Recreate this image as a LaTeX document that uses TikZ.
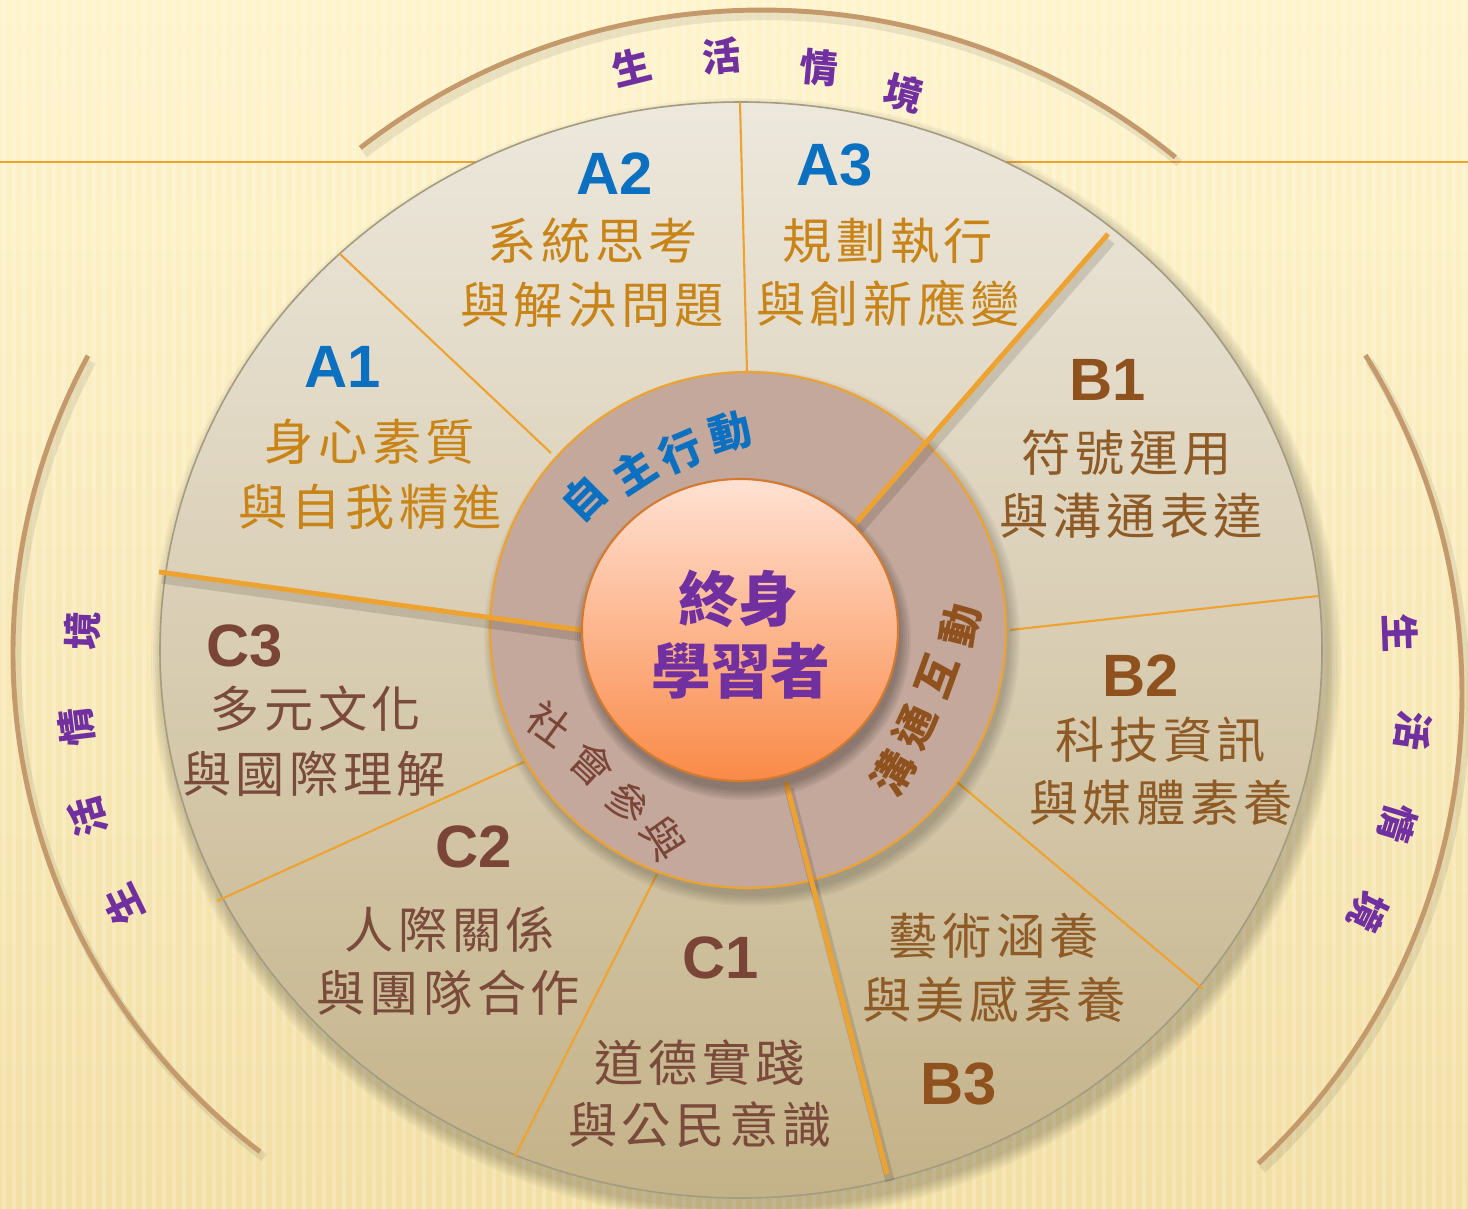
\documentclass[tikz,border=0pt]{standalone}
\usepackage{fontspec}
\newfontfamily\cjk[LetterSpace=9]{Noto Sans CJK TC}
\newfontfamily\cjkc{Noto Sans CJK TC}
\newfontfamily\codefont{Liberation Sans}
\definecolor{bgtop}{HTML}{FEF4CC}
\definecolor{bgbot}{HTML}{F2DFA4}
\definecolor{disctop}{HTML}{EDE8DD}
\definecolor{discbot}{HTML}{C4B288}
\definecolor{discedge}{HTML}{A39B82}
\definecolor{ringfill}{HTML}{C3A89B}
\definecolor{lineor}{HTML}{EEA22F}
\definecolor{inntop}{HTML}{FFE1D3}
\definecolor{innbot}{HTML}{FA8A48}
\definecolor{innedge}{HTML}{D47A2E}
\definecolor{arcbrown}{HTML}{C49A6C}
\definecolor{lifepurple}{HTML}{7030A0}
\definecolor{ablue}{HTML}{0B70C0}
\definecolor{atxt}{HTML}{C88416}
\definecolor{bcode}{HTML}{8F521E}
\definecolor{btxt}{HTML}{8E5A26}
\definecolor{ccode}{HTML}{7A4536}
\definecolor{ctxt}{HTML}{7A4A3B}

\begin{document}
\begin{tikzpicture}[x=0.01cm,y=-0.01cm]
	\tikzset{
		divider/.style={draw=lineor, line width=0.6pt},
		thickdiv/.style={draw=lineor, line width=1.4pt},
		divshadow/.style={draw=black, opacity=0.12, line width=2.6pt},
		ctxarc/.style={draw=arcbrown, line width=1.4pt},
		arcshadow/.style={draw=black, opacity=0.08, line width=2.4pt},
		code/.style={font=\codefont\bfseries\fontsize{17pt}{17pt}\selectfont},
		acode/.style={code, text=ablue},
		bcodes/.style={code, text=bcode},
		ccodes/.style={code, text=ccode},
		sector/.style={font=\cjk\fontsize{14pt}{14pt}\selectfont},
		atext/.style={sector, text=atxt},
		btext/.style={sector, text=btxt},
		ctext/.style={sector, text=ctxt},
		ringch/.style={font=\cjkc\bfseries\fontsize{12pt}{12pt}\selectfont, inner sep=0pt},
		ringthin/.style={font=\cjkc\fontsize{12pt}{12pt}\selectfont, inner sep=0pt},
		lifech/.style={font=\cjkc\bfseries\fontsize{11pt}{11pt}\selectfont, text=lifepurple, inner sep=0pt},
		center/.style={font=\cjkc\bfseries\fontsize{17pt}{17pt}\selectfont, text=lifepurple}
	}
	\useasboundingbox (0,0) rectangle (1468,1209);
	% background
	\shade[top color=bgtop, bottom color=bgbot] (0,0) rectangle (1468,1209);
	\foreach \sx in {4,14,...,1464}
		\draw[white, opacity=0.22, line width=0.9pt] (\sx,0) -- (\sx,1209);
	\draw[lineor, line width=0.85pt] (0,162) -- (1468,162);

	% context arcs
	\draw[arcshadow] (766,670) ++(-127.9:654) arc[start angle=-127.9, end angle=-50.8, radius=654];
	\draw[ctxarc] (762,664) ++(-127.9:654) arc[start angle=-127.9, end angle=-50.8, radius=654];
	\draw[arcshadow] (644,659) ++(127.3:627) arc[start angle=127.3, end angle=208.3, radius=627];
	\draw[ctxarc] (640,653) ++(127.3:627) arc[start angle=127.3, end angle=208.3, radius=627];
	\draw[arcshadow] (823,700) ++(-31.8:643) arc[start angle=-31.8, end angle=46.9, radius=643];
	\draw[ctxarc] (819,694) ++(-31.8:643) arc[start angle=-31.8, end angle=46.9, radius=643];

	% outer disc
	\foreach \k [evaluate=\k as \rx using 581+2*\k, evaluate=\k as \ry using 548+2*\k] in {1,...,7}
		\fill[black, opacity=0.03] (746,660) ellipse [x radius=\rx, y radius=\ry];
	\path[top color=disctop, bottom color=discbot, draw=discedge, line width=0.45pt]
		(741,650) ellipse [x radius=581, y radius=548];

	% thin dividers
	\draw[divider] (740,102) -- (747,372);
	\draw[divider] (340,254) -- (551,453);
	\draw[divider] (1010,630) -- (1318,596);
	\draw[divider] (957,782) -- (1203,989);
	\draw[divider] (657,874) -- (514,1158);
	\draw[divider] (524,762) -- (217,901);

	% middle ring
	\foreach \k [evaluate=\k as \rr using 256+2*\k] in {1,...,6}
		\fill[black, opacity=0.035] (752,638) circle [radius=\rr];
	\path[fill=ringfill, draw=lineor, line width=0.6pt] (748,630) circle [radius=258];

	% thick dividers
	\draw[divshadow] (1111,241) -- (859,530);
	\draw[divshadow] (162,579) -- (584,637);
	\draw[divshadow] (789,789) -- (890,1181);
	\draw[thickdiv] (1108,234) -- (856,523);
	\draw[thickdiv] (159,572) -- (581,630);
	\draw[thickdiv] (786,782) -- (887,1174);

	% lifelong learner
	\foreach \k [evaluate=\k as \rx using 156+2*\k, evaluate=\k as \ry using 149+2*\k] in {1,...,6}
		\fill[black, opacity=0.05] (743,639) ellipse [x radius=\rx, y radius=\ry];
	\path[top color=inntop, bottom color=innbot, draw=innedge, line width=0.6pt]
		(740,630) ellipse [x radius=158, y radius=151];
	\node[center] (lf1) at (738,599) {終身};
	\node[center] (lf2) at (741,671) {學習者};

	% ring texts
	\foreach \ch/\px/\py/\rot [count=\i] in {自/584/498/45, 主/634/471/33, 行/681/451/23, 動/730/432/14}
		\node[ringch, text=ablue, rotate=\rot] (ra\i) at (\px,\py) {\ch};
	\foreach \ch/\px/\py/\rot [count=\i] in {溝/893/773/60, 通/915/727/65, 互/937/676/70, 動/960/625/76}
		\node[ringch, text=bcode, rotate=\rot] (rb\i) at (\px,\py) {\ch};
	\foreach \ch/\px/\py/\rot [count=\i] in {社/549/724/-36, 會/592/764/-43, 參/627/803/-50, 與/663/838/-57}
		\node[ringthin, text=ccode, rotate=\rot] (rc\i) at (\px,\py) {\ch};

	% life context
	\foreach \ch/\px/\py/\rot [count=\i] in {生/632/67/14, 活/721/56/5, 情/819/68/-5, 境/904/93/-15}
		\node[lifech, rotate=\rot] (lt\i) at (\px,\py) {\ch};
	\foreach \ch/\px/\py/\rot [count=\i] in {生/123/905/116, 活/88/817/106, 情/77/727/97, 境/82/631/88}
		\node[lifech, rotate=\rot] (ll\i) at (\px,\py) {\ch};
	\foreach \ch/\px/\py/\rot [count=\i] in {生/1400/633/-88, 活/1413/731/-98, 情/1398/823/-107, 境/1368/912/-116}
		\node[lifech, rotate=\rot] (lr\i) at (\px,\py) {\ch};

	% A
	\node[acode] (a1) at (343,367) {A1};
	\node[atext] (a1t) at (370,442) {身心素質};
	\node[atext] (a1b) at (370,507) {與自我精進};
	\node[acode] (a2) at (615,174) {A2};
	\node[atext] (a2t) at (593,241) {系統思考};
	\node[atext] (a2b) at (592,305) {與解決問題};
	\node[acode] (a3) at (835,165) {A3};
	\node[atext] (a3t) at (888,241) {規劃執行};
	\node[atext] (a3b) at (888,303) {與創新應變};
	% B
	\node[bcodes] (b1) at (1108,380) {B1};
	\node[btext] (b1t) at (1127,453) {符號運用};
	\node[btext] (b1b) at (1131,516) {與溝通表達};
	\node[bcodes] (b2) at (1141,676) {B2};
	\node[btext] (b2t) at (1161,740) {科技資訊};
	\node[btext] (b2b) at (1161,803) {與媒體素養};
	\node[btext] (b3t) at (994,936) {藝術涵養};
	\node[btext] (b3b) at (994,1000) {與美感素養};
	\node[bcodes] (b3) at (959,1084) {B3};
	% C
	\node[ccodes] (c1) at (721,958) {C1};
	\node[ctext] (c1t) at (700,1063) {道德實踐};
	\node[ctext] (c1b) at (700,1125) {與公民意識};
	\node[ccodes] (c2) at (474,847) {C2};
	\node[ctext] (c2t) at (450,929) {人際關係};
	\node[ctext] (c2b) at (448,993) {與團隊合作};
	\node[ccodes] (c3) at (245,646) {C3};
	\node[ctext] (c3t) at (316,709) {多元文化};
	\node[ctext] (c3b) at (314,774) {與國際理解};
\end{tikzpicture}
\end{document}
